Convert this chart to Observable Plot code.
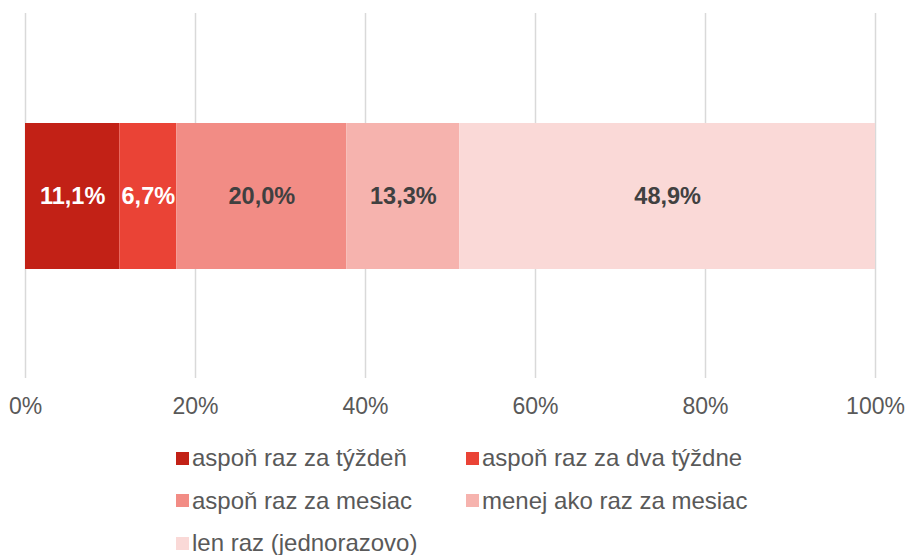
<!DOCTYPE html>
<html>
<head>
<meta charset="utf-8">
<script src="https://cdn.jsdelivr.net/npm/d3@7"></script>
<script src="https://cdn.jsdelivr.net/npm/@observablehq/plot@0.6"></script>
<style>
  body { margin: 0; background: #fff; font-family: "Liberation Sans", Arial, sans-serif; }
  #chart svg { display: block; }
  #legend { width: 909px; padding: 7px 0 0 176px; box-sizing: border-box; display: grid; grid-template-columns: 290px 300px; grid-auto-rows: 42.5px; }
  .item { display: flex; align-items: center; font-size: 24px; color: #595959; white-space: nowrap; }
  .sw { width: 13px; height: 13px; margin-right: 3px; flex: none; }
</style>
</head>
<body>
<div id="chart"></div>
<div id="legend"></div>
<script>
const categories = ["aspoň raz za týždeň", "aspoň raz za dva týždne", "aspoň raz za mesiac", "menej ako raz za mesiac", "len raz (jednorazovo)"];
const values = [11.1, 6.7, 20.0, 13.3, 48.9];
const colors = ["#C22116", "#EA4336", "#F28C85", "#F6B3AE", "#FAD9D7"];
const xTicks = [0, 20, 40, 60, 80, 100];

const fmt = v => v.toFixed(1).replace(".", ",") + "%";
const data = categories.map((c, i) => ({cat: c, value: values[i], row: "A", idx: i}));

const chart = Plot.plot({
  width: 909,
  height: 430,
  marginLeft: 25,
  marginRight: 34,
  marginTop: 13,
  marginBottom: 52,
  style: {fontFamily: "'Liberation Sans', Arial, sans-serif", background: "#fff"},
  x: {domain: [0, 100], ticks: xTicks, tickFormat: d => d + "%"},
  y: {domain: ["A"], padding: 0.4286, axis: null},
  color: {domain: categories, range: colors},
  marks: [
    Plot.ruleX(xTicks, {stroke: "#D9D9D9", strokeWidth: 1.5}),
    Plot.barX(data, Plot.stackX({x: "value", y: "row", fill: "cat", order: null})),
    Plot.text(data, Plot.stackX({x: "value", y: "row", order: null,
      text: d => d.idx < 2 ? fmt(d.value) : null,
      fill: "white", fontWeight: "bold", fontSize: 23.5})),
    Plot.text(data, Plot.stackX({x: "value", y: "row", order: null,
      text: d => d.idx >= 2 ? fmt(d.value) : null,
      fill: "#404040", fontWeight: "bold", fontSize: 23.5})),
    Plot.axisX({ticks: xTicks, tickFormat: d => d + "%", tickSize: 0, tickPadding: 19, fontSize: 23, fill: "#595959", label: null})
  ]
});
document.getElementById("chart").appendChild(chart);

const legend = document.getElementById("legend");
categories.forEach((c, i) => {
  const item = document.createElement("div");
  item.className = "item";
  const sw = document.createElement("span");
  sw.className = "sw";
  sw.style.background = colors[i];
  const t = document.createElement("span");
  t.textContent = c;
  item.appendChild(sw);
  item.appendChild(t);
  legend.appendChild(item);
});
</script>
</body>
</html>
